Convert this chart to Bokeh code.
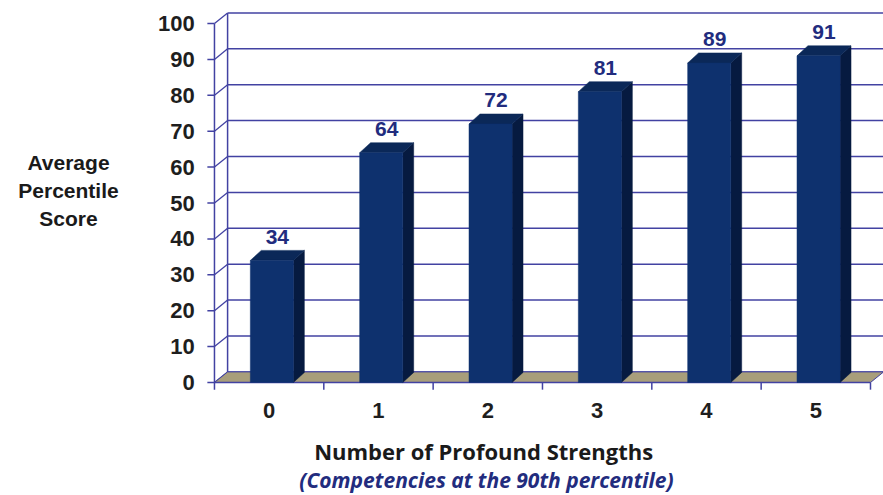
from bokeh.plotting import figure
from bokeh.models import Range1d
from bokeh.embed import file_html
from bokeh.resources import INLINE
from bokeh.core.properties import value

# ---- data ----
categories = ["0", "1", "2", "3", "4", "5"]
scores = [34, 64, 72, 81, 89, 91]
y_ticks = [0, 10, 20, 30, 40, 50, 60, 70, 80, 90, 100]
y_tick_labels = [str(t) for t in y_ticks]
y_title = "Average\nPercentile\nScore"
x_title = "Number of  Profound Strengths"
x_subtitle = "(Competencies at the 90th percentile)"

# ---- style / geometry constants ----
W, H = 883, 495
DX, DY = 0.12, 2.95          # wall depth offset (x units, value units)
BDX, BDY = 0.10, 2.8         # bar depth offset
BHW, BOFF = 0.197, 0.025     # bar half width, offset from category centre
GRID = "#4242a2"
FRONT, SIDE, TOP = "#0e316e", "#061a40", "#0b2858"
FLOOR = "#a89e7b"
LABEL_BLUE = "#222c7e"
n = len(categories)

p = figure(width=W, height=H, x_range=Range1d(-1.957, 6.119),
           y_range=Range1d(-31.48, 106.41), output_backend="svg",
           toolbar_location=None, min_border=0,
           x_axis_location=None, y_axis_location=None)
p.grid.visible = False
p.outline_line_color = None
p.background_fill_color = "white"
p.border_fill_color = "white"

# back wall gridlines
p.segment(x0=[DX] * len(y_ticks), x1=[n + DX] * len(y_ticks),
          y0=[DY + t for t in y_ticks], y1=[DY + t for t in y_ticks],
          line_color=GRID, line_width=1.5)
# left wall: diagonals and verticals
p.segment(x0=[0] * len(y_ticks), x1=[DX] * len(y_ticks),
          y0=y_ticks, y1=[DY + t for t in y_ticks],
          line_color=GRID, line_width=1.3)
p.segment(x0=[0, DX], x1=[0, DX], y0=[0, DY], y1=[y_ticks[-1], y_ticks[-1] + DY],
          line_color=GRID, line_width=1.5)
# y tick marks
p.segment(x0=[-0.065] * len(y_ticks), x1=[0] * len(y_ticks),
          y0=y_ticks, y1=y_ticks, line_color=GRID, line_width=1.5)

# floor
p.patch(x=[0, n, n + DX, DX], y=[0, 0, DY, DY], fill_color=FLOOR,
        line_color=GRID, line_width=1.0)
p.segment(x0=[0], x1=[n], y0=[0], y1=[0], line_color=GRID, line_width=1.5)
# x tick marks at category boundaries
p.segment(x0=list(range(n + 1)), x1=list(range(n + 1)),
          y0=[0] * (n + 1), y1=[-2.0] * (n + 1), line_color=GRID, line_width=1.5)

# bars
lefts = [i + 0.5 + BOFF - BHW for i in range(n)]
rights = [i + 0.5 + BOFF + BHW for i in range(n)]
side_xs = [[r, r + BDX, r + BDX, r] for r in rights]
side_ys = [[0, BDY, v + BDY, v] for v in scores]
top_xs = [[l, r, r + BDX, l + BDX] for l, r in zip(lefts, rights)]
top_ys = [[v, v, v + BDY, v + BDY] for v in scores]
p.patches(xs=side_xs, ys=side_ys, fill_color=SIDE, line_color=SIDE, line_width=0.5)
p.patches(xs=top_xs, ys=top_ys, fill_color=TOP, line_color=TOP, line_width=0.5)
p.quad(left=lefts, right=rights, bottom=[0] * n, top=scores,
       fill_color=FRONT, line_color=FRONT, line_width=0.5)

# value labels
p.text(x=[i + 0.5 + BOFF + BDX / 2 for i in range(n)],
       y=[v + BDY + 3.8 for v in scores], text=[str(v) for v in scores],
       text_font=value("Liberation Sans"), text_font_style="bold",
       text_font_size="21px", text_color=LABEL_BLUE,
       text_align="center", text_baseline="middle")

# y tick labels
p.text(x=[-0.18] * len(y_ticks), y=y_ticks, text=y_tick_labels,
       text_font=value("Liberation Sans"), text_font_style="bold",
       text_font_size="22px", text_color="#1e1e1e",
       text_align="right", text_baseline="middle")

# category labels
p.text(x=[i + 0.5 for i in range(n)], y=[-7.8] * n, text=categories,
       text_font=value("Liberation Sans"), text_font_style="bold",
       text_font_size="22px", text_color="#1e1e1e",
       text_align="center", text_baseline="middle")

# y title
p.text(x=[-1.335], y=[53.5], text=[y_title],
       text_font=value("Liberation Sans"), text_font_style="bold",
       text_font_size="21px", text_color="#1a1a1a", text_line_height=1.2,
       text_align="center", text_baseline="middle")

# x title and subtitle
p.text(x=[2.488], y=[-19.0], text=[x_title],
       text_font=value("Open Sans"), text_font_style="bold",
       text_font_size="22px", text_color="#1a1a1a",
       text_align="center", text_baseline="middle")
p.text(x=[2.488], y=[-27.2], text=[x_subtitle],
       text_font=value("Open Sans"), text_font_style="bold italic",
       text_font_size="21px", text_color=LABEL_BLUE,
       text_align="center", text_baseline="middle")

open("out.html", "w").write(file_html(p, INLINE))
